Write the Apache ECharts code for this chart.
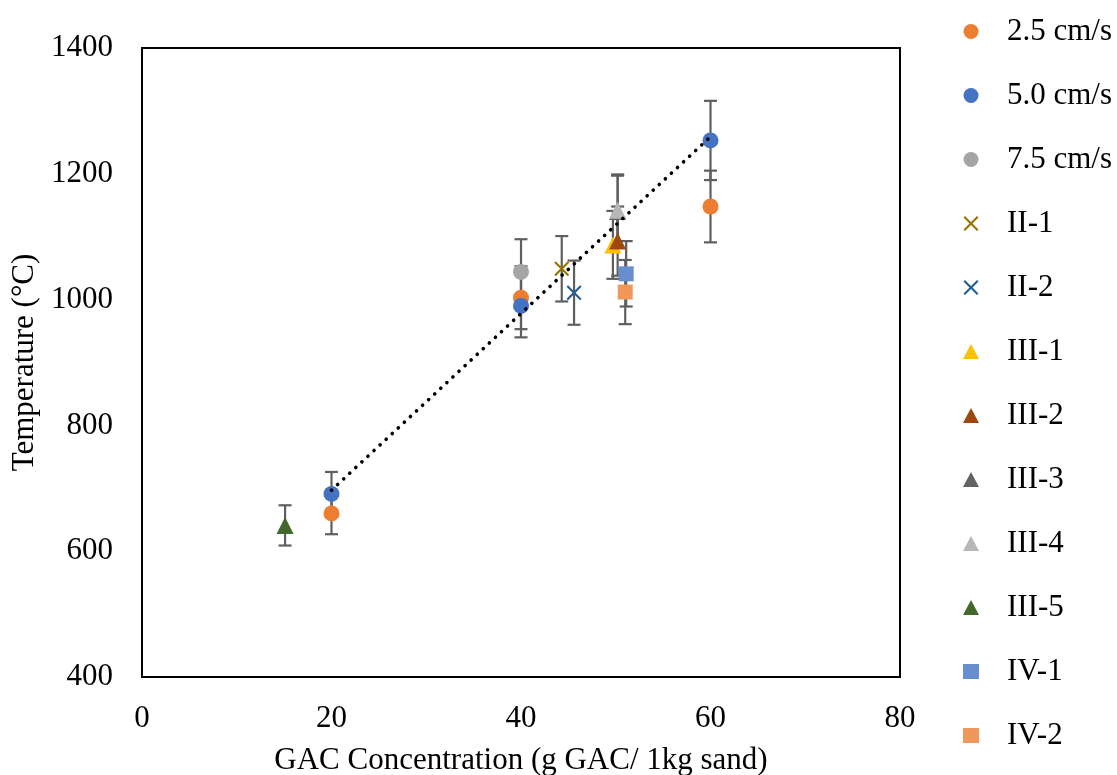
<!DOCTYPE html>
<html>
<head>
<meta charset="utf-8">
<script src="https://cdn.jsdelivr.net/npm/echarts@6/dist/echarts.min.js"></script>
<style>
  html, body { margin: 0; padding: 0; background: #fff; }
  #chart { width: 1117px; height: 775px; }
</style>
</head>
<body>
<div id="chart"></div>
<script>
// Series names (legend order)
const seriesNames = ['2.5 cm/s', '5.0 cm/s', '7.5 cm/s', 'II-1', 'II-2', 'III-1', 'III-2', 'III-3', 'III-4', 'III-5', 'IV-1', 'IV-2'];

// GAC concentration (g GAC / 1 kg sand) for each series
const xV25  = [20, 40, 60];
const xV50  = [20, 40, 60];
const xV75  = [40];
const xII1  = [44.3];
const xII2  = [45.6];
const xIII1 = [49.7];
const xIII2 = [50.2];
const xIII3 = [50.2];
const xIII4 = [50.2];
const xIII5 = [15.1];
const xIV1  = [51.1];
const xIV2  = [51.0];

// Temperature (°C)
const tV25  = [660, 1003, 1148];
const tV50  = [691, 990, 1253];
const tV75  = [1044];
const tII1  = [1049];
const tII2  = [1011];
const tIII1 = [1087];
const tIII2 = [1093];
const tIII3 = [1140];
const tIII4 = [1142];
const tIII5 = [641];
const tIV1  = [1041];
const tIV2  = [1012];

// Error bar half-widths (°C)
const eV25  = [33, 50, 57];
const eV50  = [35, 50, 63];
const eV75  = [52];
const eII1  = [52];
const eII2  = [51];
const eIII1 = [54];
const eIII2 = [55];
const eIII3 = [57];
const eIII4 = [57];
const eIII5 = [32];
const eIV1  = [52];
const eIV2  = [51];

// Axis ticks
const xTicks = [0, 20, 40, 60, 80];
const yTicks = [400, 600, 800, 1000, 1200, 1400];

const FONT = '"Liberation Serif", "DejaVu Serif", serif';
const FS = 31;
const X_SHAPE = 'path://M0,1L1,0L5,4L9,0L10,1L6,5L10,9L9,10L5,6L1,10L0,9L4,5Z';

const groups = [
  { x: xV25,  y: tV25,  e: eV25,  color: '#ED7D31', symbol: 'circle',   size: 16 },
  { x: xV50,  y: tV50,  e: eV50,  color: '#4472C4', symbol: 'circle',   size: 16 },
  { x: xV75,  y: tV75,  e: eV75,  color: '#A5A5A5', symbol: 'circle',   size: 16 },
  { x: xII1,  y: tII1,  e: eII1,  color: '#997300', symbol: X_SHAPE,    size: 15 },
  { x: xII2,  y: tII2,  e: eII2,  color: '#255E91', symbol: X_SHAPE,    size: 15 },
  { x: xIII1, y: tIII1, e: eIII1, color: '#FFC000', symbol: 'triangle', size: 17 },
  { x: xIII2, y: tIII2, e: eIII2, color: '#9E480E', symbol: 'triangle', size: 17 },
  { x: xIII3, y: tIII3, e: eIII3, color: '#636363', symbol: 'triangle', size: 17 },
  { x: xIII4, y: tIII4, e: eIII4, color: '#B7B7B7', symbol: 'triangle', size: 17 },
  { x: xIII5, y: tIII5, e: eIII5, color: '#43682B', symbol: 'triangle', size: 17 },
  { x: xIV1,  y: tIV1,  e: eIV1,  color: '#698ED0', symbol: 'rect',     size: 15 },
  { x: xIV2,  y: tIV2,  e: eIV2,  color: '#F1975A', symbol: 'rect',     size: 15 }
];

// Linear least-squares trend over the 5.0 cm/s series
function linFit(xs, ys) {
  const n = xs.length;
  const mx = xs.reduce((a, b) => a + b, 0) / n;
  const my = ys.reduce((a, b) => a + b, 0) / n;
  let sxy = 0, sxx = 0;
  for (let i = 0; i < n; i++) { sxy += (xs[i] - mx) * (ys[i] - my); sxx += (xs[i] - mx) ** 2; }
  const k = sxy / sxx;
  return x => my + k * (x - mx);
}
const trend = linFit(xV50, tV50);
const trendX = [Math.min(...xV50), Math.max(...xV50)];

const series = [];

// Error bars (drawn beneath markers)
const errData = [];
groups.forEach(g => g.x.forEach((x, i) => errData.push([x, g.y[i] - g.e[i], g.y[i] + g.e[i]])));
series.push({
  type: 'custom',
  name: 'err',
  silent: true,
  z: 1,
  data: errData,
  encode: { x: 0, y: [1, 2] },
  renderItem: function (params, api) {
    const lo = api.coord([api.value(0), api.value(1)]);
    const hi = api.coord([api.value(0), api.value(2)]);
    const w = 6.5;
    const st = { stroke: '#5f5f5f', lineWidth: 2.2 };
    return {
      type: 'group',
      children: [
        { type: 'line', shape: { x1: lo[0], y1: lo[1], x2: hi[0], y2: hi[1] }, style: st },
        { type: 'line', shape: { x1: lo[0] - w, y1: lo[1], x2: lo[0] + w, y2: lo[1] }, style: st },
        { type: 'line', shape: { x1: hi[0] - w, y1: hi[1], x2: hi[0] + w, y2: hi[1] }, style: st }
      ]
    };
  }
});

groups.forEach((g, k) => {
  series.push({
    type: 'scatter',
    name: seriesNames[k],
    symbol: g.symbol,
    symbolSize: g.size,
    z: 3 + k,
    itemStyle: { color: g.color, opacity: 1 },
    data: g.x.map((x, i) => [x, g.y[i]])
  });
});

// Dotted linear trendline
series.push({
  type: 'line',
  name: 'trend',
  silent: true,
  z: 20,
  symbol: 'none',
  lineStyle: { color: '#000', width: 3.6, type: [0.1, 8.2], cap: 'round' },
  data: trendX.map(x => [x, trend(x)])
});

const chart = echarts.init(document.getElementById('chart'), null, { renderer: 'canvas' });
chart.setOption({
  animation: false,
  backgroundColor: '#fff',
  textStyle: { fontFamily: FONT },
  grid: {
    left: 142, top: 48, width: 758, height: 629,
    outerBoundsMode: 'none', containLabel: false,
    show: true, borderColor: '#000', borderWidth: 2, backgroundColor: 'transparent'
  },
  xAxis: {
    type: 'value',
    min: xTicks[0], max: xTicks[xTicks.length - 1], interval: xTicks[1] - xTicks[0],
    name: 'GAC Concentration (g GAC/ 1kg sand)',
    nameLocation: 'middle', nameGap: 68,
    nameTextStyle: { fontFamily: FONT, fontSize: FS, color: '#000' },
    axisLine: { show: false }, axisTick: { show: false }, splitLine: { show: false },
    axisLabel: { fontFamily: FONT, fontSize: FS, color: '#000', margin: 26 }
  },
  yAxis: {
    type: 'value',
    min: yTicks[0], max: yTicks[yTicks.length - 1], interval: yTicks[1] - yTicks[0],
    name: 'Temperature (°C)',
    nameLocation: 'middle', nameGap: 93, nameRotate: 90,
    nameTextStyle: { fontFamily: FONT, fontSize: FS, color: '#000' },
    axisLine: { show: false }, axisTick: { show: false }, splitLine: { show: false },
    axisLabel: { fontFamily: FONT, fontSize: FS, color: '#000', margin: 29, formatter: v => String(v) }
  },
  legend: {
    orient: 'vertical',
    left: 958, top: 11,
    itemWidth: 16, itemHeight: 15,
    itemGap: 33,
    data: seriesNames.map((n, k) => ({ name: n, icon: groups[k].symbol })),
    textStyle: { fontFamily: FONT, fontSize: FS, color: '#000', padding: [0, 0, 0, 23] }
  },
  series: series
});
</script>
</body>
</html>
